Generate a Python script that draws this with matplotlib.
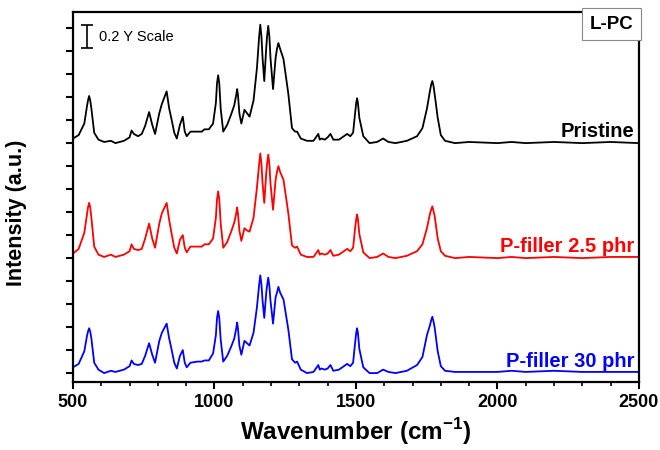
import matplotlib
matplotlib.use("Agg")
import numpy as np
from matplotlib import pyplot as plt
from matplotlib.ticker import MultipleLocator

plt.rcParams["font.family"] = ["Liberation Sans", "DejaVu Sans"]
plt.rcParams["mathtext.fontset"] = "custom"
plt.rcParams["mathtext.bf"] = "Liberation Sans:bold"
plt.rcParams["mathtext.rm"] = "Liberation Sans"

# wavenumber (cm-1)
wavenumber = [
	500, 520, 540, 550, 553, 557, 561, 565, 575, 590, 610, 634,
	650, 680, 700, 707, 715, 730, 743, 755, 769, 780,
	790, 805, 814, 831, 840, 848, 858, 867, 878, 888,
	895, 902, 915, 940, 955, 965, 980, 995, 1005, 1009, 1013, 1017,
	1022, 1031, 1045, 1059, 1070, 1077, 1080, 1083, 1088, 1095, 1106, 1115,
	1124, 1138, 1150, 1158, 1162, 1166, 1170, 1176, 1183, 1186, 1190, 1194, 1198, 1207,
	1216, 1221, 1226, 1232, 1244, 1261, 1274, 1285, 1292, 1305, 1327, 1350,
	1367, 1372, 1378, 1390, 1400, 1410, 1420, 1440, 1469, 1480,
	1490, 1497, 1501, 1504, 1507, 1512, 1526, 1548, 1575, 1596, 1615, 1640,
	1680, 1716, 1735, 1751, 1762, 1766, 1770, 1774, 1778, 1789, 1800, 1815,
	1850, 1900, 2000, 2050, 2100, 2200, 2300, 2400, 2500,
]

pristine = [
	.04, .07, .17, .33, .37, .41, .37, .30, .09, .03, .01, .02,
	0, .02, .05, .11, .08, .06, .08, .15, .27, .16,
	.08, .26, .34, .45, .30, .21, .09, .04, .16, .23,
	.10, .06, .10, .10, .10, .12, .12, .17, .35, .52, .59, .52,
	.30, .10, .16, .25, .33, .42, .47, .42, .26, .17, .29, .26,
	.23, .37, .65, .93, 1.03, .93, .74, .54, .83, .93, 1.02, .93, .74, .47,
	.74, .82, .87, .82, .73, .43, .13, .10, .10, .04, .02, .02,
	.08, .03, .04, .03, .05, .08, .03, .03, .08, .06,
	.09, .26, .35, .39, .35, .22, .06, 0, .01, .04, .01, 0,
	.02, .06, .13, .30, .46, .51, .54, .50, .43, .22, .07, .02,
	0, .01, 0, .01, 0, .01, 0, .01, 0,
]

filler_2_5 = [
	.04, .08, .22, .39, .44, .48, .44, .35, .10, .03, .01, .03,
	.01, .03, .06, .12, .08, .07, .08, .17, .30, .17,
	.09, .30, .39, .48, .33, .22, .09, .04, .16, .20,
	.09, .05, .10, .10, .10, .12, .12, .17, .35, .51, .58, .51,
	.30, .09, .14, .23, .31, .39, .44, .39, .24, .15, .26, .24,
	.23, .35, .61, .82, .91, .82, .65, .48, .74, .82, .90, .82, .65, .42,
	.68, .75, .80, .75, .68, .39, .11, .09, .10, .03, .01, .01,
	.07, .03, .04, .03, .04, .07, .02, .03, .08, .06,
	.09, .26, .34, .38, .34, .21, .05, 0, .01, .04, .01, 0,
	.02, .06, .12, .26, .39, .42, .45, .41, .37, .17, .06, .02,
	0, .01, 0, .01, 0, .01, 0, .01, .01,
]

filler_30 = [
	.05, .08, .19, .33, .36, .39, .36, .30, .09, .03, 0, .02,
	.01, .03, .06, .11, .08, .07, .08, .15, .26, .16,
	.09, .28, .35, .43, .30, .21, .09, .04, .15, .20,
	.09, .05, .09, .10, .10, .11, .11, .17, .33, .48, .54, .48,
	.29, .10, .15, .23, .30, .39, .44, .39, .24, .16, .28, .26,
	.24, .35, .57, .77, .85, .77, .63, .48, .70, .76, .83, .76, .63, .43,
	.66, .70, .75, .70, .64, .38, .12, .09, .10, .03, 0, .01,
	.07, .03, .04, .03, .04, .07, .02, .03, .08, .06,
	.09, .26, .35, .39, .35, .21, .05, 0, 0, .03, .01, 0,
	.02, .07, .14, .33, .42, .46, .49, .45, .40, .19, .06, .02,
	.01, .01, .01, .02, .01, .02, .01, .01, .01,
]

labels = ["Pristine", "P-filler 2.5 phr", "P-filler 30 phr"]
colors = ["black", "red", "blue"]
offsets = [2.0, 1.0, 0.0]

fig = plt.figure(figsize=(6.6, 4.5), dpi=100)
ax = fig.add_axes([0.1106, 0.151, 0.8574, 0.822])

for y, lab, col, off in zip([pristine, filler_2_5, filler_30], labels, colors, offsets):
	ax.plot(wavenumber, np.array(y) + off, color=col, lw=1.3)
	ax.text(2485, off + 0.05, lab, color=col, ha="right", va="baseline",
		fontsize=14.5, fontweight="bold")

ax.set_xlim(500, 2500)
ax.set_ylim(-0.078, 3.139)
ax.xaxis.set_major_locator(MultipleLocator(500))
ax.xaxis.set_minor_locator(MultipleLocator(100))
ax.set_yticks(np.arange(0, 3.01, 0.2))
ax.set_yticklabels([])
ax.tick_params(axis="both", which="major", direction="out", length=5, width=1.5)
ax.tick_params(axis="x", which="minor", direction="out", length=3, width=1.2)
ax.tick_params(axis="x", labelsize=13)
for lab in ax.get_xticklabels():
	lab.set_fontweight("bold")
for s in ax.spines.values():
	s.set_linewidth(1.6)

ax.set_xlabel("Wavenumber (cm$^{\\mathbf{-1}}$)", fontsize=17.5, fontweight="bold", labelpad=4)
ax.set_ylabel("Intensity (a.u.)", fontsize=15.5, fontweight="bold")
ax.yaxis.set_label_coords(-0.081, 0.457)

# scale bar
ax.errorbar([550], [2.926], yerr=[0.1], color="black", capsize=4, elinewidth=1.2, capthick=1.2)
ax.text(592, 2.926, "0.2 Y Scale", fontsize=10.5, va="center", ha="left")

ax.text(0.99, 0.99, "L-PC", transform=ax.transAxes, ha="right", va="top",
	fontsize=13.5, fontweight="bold",
	bbox=dict(boxstyle="square,pad=0.4", fc="white", ec="#888888", lw=0.8))

fig.savefig("out.png", dpi=100)
plt.close()
